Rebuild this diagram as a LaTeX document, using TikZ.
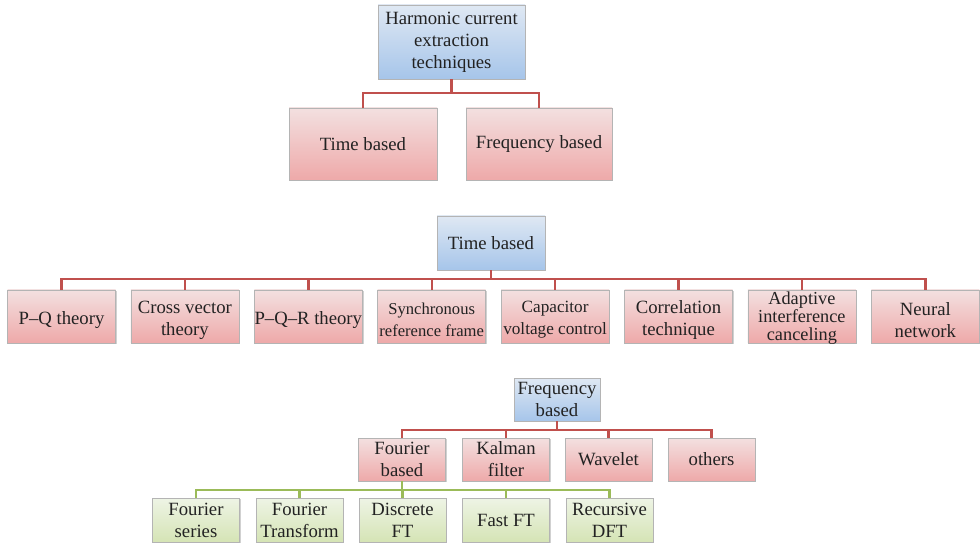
\documentclass[tikz,border=0pt]{standalone}
\usepackage{fontspec}
\setmainfont{Liberation Serif}
\usetikzlibrary{shadows}
\definecolor{bluetop}{HTML}{DFE8F3}
\definecolor{bluebot}{HTML}{A6C5EA}
\definecolor{redtop}{HTML}{F3E0E0}
\definecolor{redbot}{HTML}{EEA9A9}
\definecolor{greentop}{HTML}{EEF4E5}
\definecolor{greenbot}{HTML}{D5E4B5}
\definecolor{redline}{HTML}{C0504D}
\definecolor{greenline}{HTML}{9BBB59}
\definecolor{boxline}{HTML}{B4B4B4}
\definecolor{txt}{HTML}{222222}
\tikzset{
  basefont/.style={font=\fontsize{18.7}{22}\selectfont},
  basebox/.style={rectangle, draw=boxline, line width=0.6pt, inner sep=0pt,
    align=center, text=txt, basefont,
    drop shadow={shadow xshift=1.2pt, shadow yshift=-1.2pt, opacity=0.3, fill=black!60}},
  bluebox/.style={basebox, top color=bluetop, bottom color=bluebot},
  redbox/.style={basebox, top color=redtop, bottom color=redbot},
  greenbox/.style={basebox, top color=greentop, bottom color=greenbot},
  sz/.style 2 args={minimum width=#1pt, minimum height=#2pt},
  lowtext/.style={inner sep=0pt, align=center, text=txt, basefont, yshift=-3.5pt},
  redconn/.style={draw=redline, line width=2.4pt},
  greenconn/.style={draw=greenline, line width=2.4pt},
}
\begin{document}
\begin{tikzpicture}[x=1pt,y=-1pt]
\useasboundingbox (0,0) rectangle (980,545);
% ---------- top tree ----------
\node[bluebox, sz={147}{74}] (root) at (451.5,42) {Harmonic current\\extraction\\techniques};
\node[redbox, sz={148}{72}] (ta) at (363,144) {Time based};
\node[redbox, sz={146}{72}] (fa) at (539,144) {Frequency based};
\coordinate (rj) at (451.5,93);
\draw[redconn] (root.south) -- (rj);
\draw[redconn] (rj) -| (ta.north);
\draw[redconn] (rj) -| (fa.north);
% ---------- time based tree ----------
\node[bluebox, sz={108}{54}] (tb) at (491,243) {Time based};
\node[redbox, sz={108}{53}] (t1) at (61.5,316.5) {};
\node[redbox, sz={108}{53}] (t2) at (184.9,316.5) {};
\node[redbox, sz={108}{53}] (t3) at (308.3,316.5) {};
\node[redbox, sz={108}{53}] (t4) at (431.7,316.5) {};
\node[redbox, sz={108}{53}] (t5) at (555.1,316.5) {};
\node[redbox, sz={108}{53}] (t6) at (678.5,316.5) {};
\node[redbox, sz={108}{53}] (t7) at (801.9,316.5) {};
\node[redbox, sz={108}{53}] (t8) at (925.3,316.5) {};
\node[lowtext] (t1t) at (t1.center) {P--Q theory};
\node[lowtext] (t2t) at (t2.center) {Cross vector\\theory};
\node[lowtext] (t3t) at (t3.center) {P--Q--R theory};
\node[lowtext, font=\fontsize{16.6}{22}\selectfont] (t4t) at (t4.center) {Synchronous\\reference frame};
\node[lowtext, font=\fontsize{17.2}{22}\selectfont] (t5t) at (t5.center) {Capacitor\\voltage control};
\node[lowtext] (t6t) at (t6.center) {Correlation\\technique};
\node[lowtext, font=\fontsize{18.3}{18}\selectfont, yshift=1.5pt] (t7t) at (t7.center) {Adaptive\\interference\\canceling};
\node[lowtext] (t8t) at (t8.center) {Neural\\network};
\coordinate (tj) at (491,279);
\draw[redconn] (tb.south) -- (tj);
\foreach \c in {t1,t2,t3,t4,t5,t6,t7,t8}{\draw[redconn] (tj) -| (\c.north);}
% ---------- frequency based tree ----------
\node[bluebox, sz={86}{43}] (fb) at (557,399.5) {Frequency\\based};
\node[redbox, sz={87}{43}] (f1) at (402,459.5) {Fourier\\based};
\node[redbox, sz={87}{43}] (f2) at (506,459.5) {Kalman\\filter};
\node[redbox, sz={87}{43}] (f3) at (608.5,459.5) {Wavelet};
\node[redbox, sz={87}{43}] (f4) at (711.5,459.5) {others};
\coordinate (fj) at (557,430);
\draw[redconn] (fb.south) -- (fj);
\foreach \c in {f1,f2,f3,f4}{\draw[redconn] (fj) -| (\c.north);}
% ---------- fourier based tree ----------
\node[greenbox, sz={87}{44}] (g1) at (196,520) {Fourier\\series};
\node[greenbox, sz={87}{44}] (g2) at (299.5,520) {Fourier\\Transform};
\node[greenbox, sz={87}{44}] (g3) at (402.5,520) {Discrete\\FT};
\node[greenbox, sz={87}{44}] (g4) at (506,520) {Fast FT};
\node[greenbox, sz={87}{44}] (g5) at (609.5,520) {Recursive\\DFT};
\coordinate (gj) at (402,490);
\draw[greenconn] (f1.south) -- (gj);
\foreach \c in {g1,g2,g3,g4,g5}{\draw[greenconn] (gj) -| (\c.north);}
\end{tikzpicture}
\end{document}
